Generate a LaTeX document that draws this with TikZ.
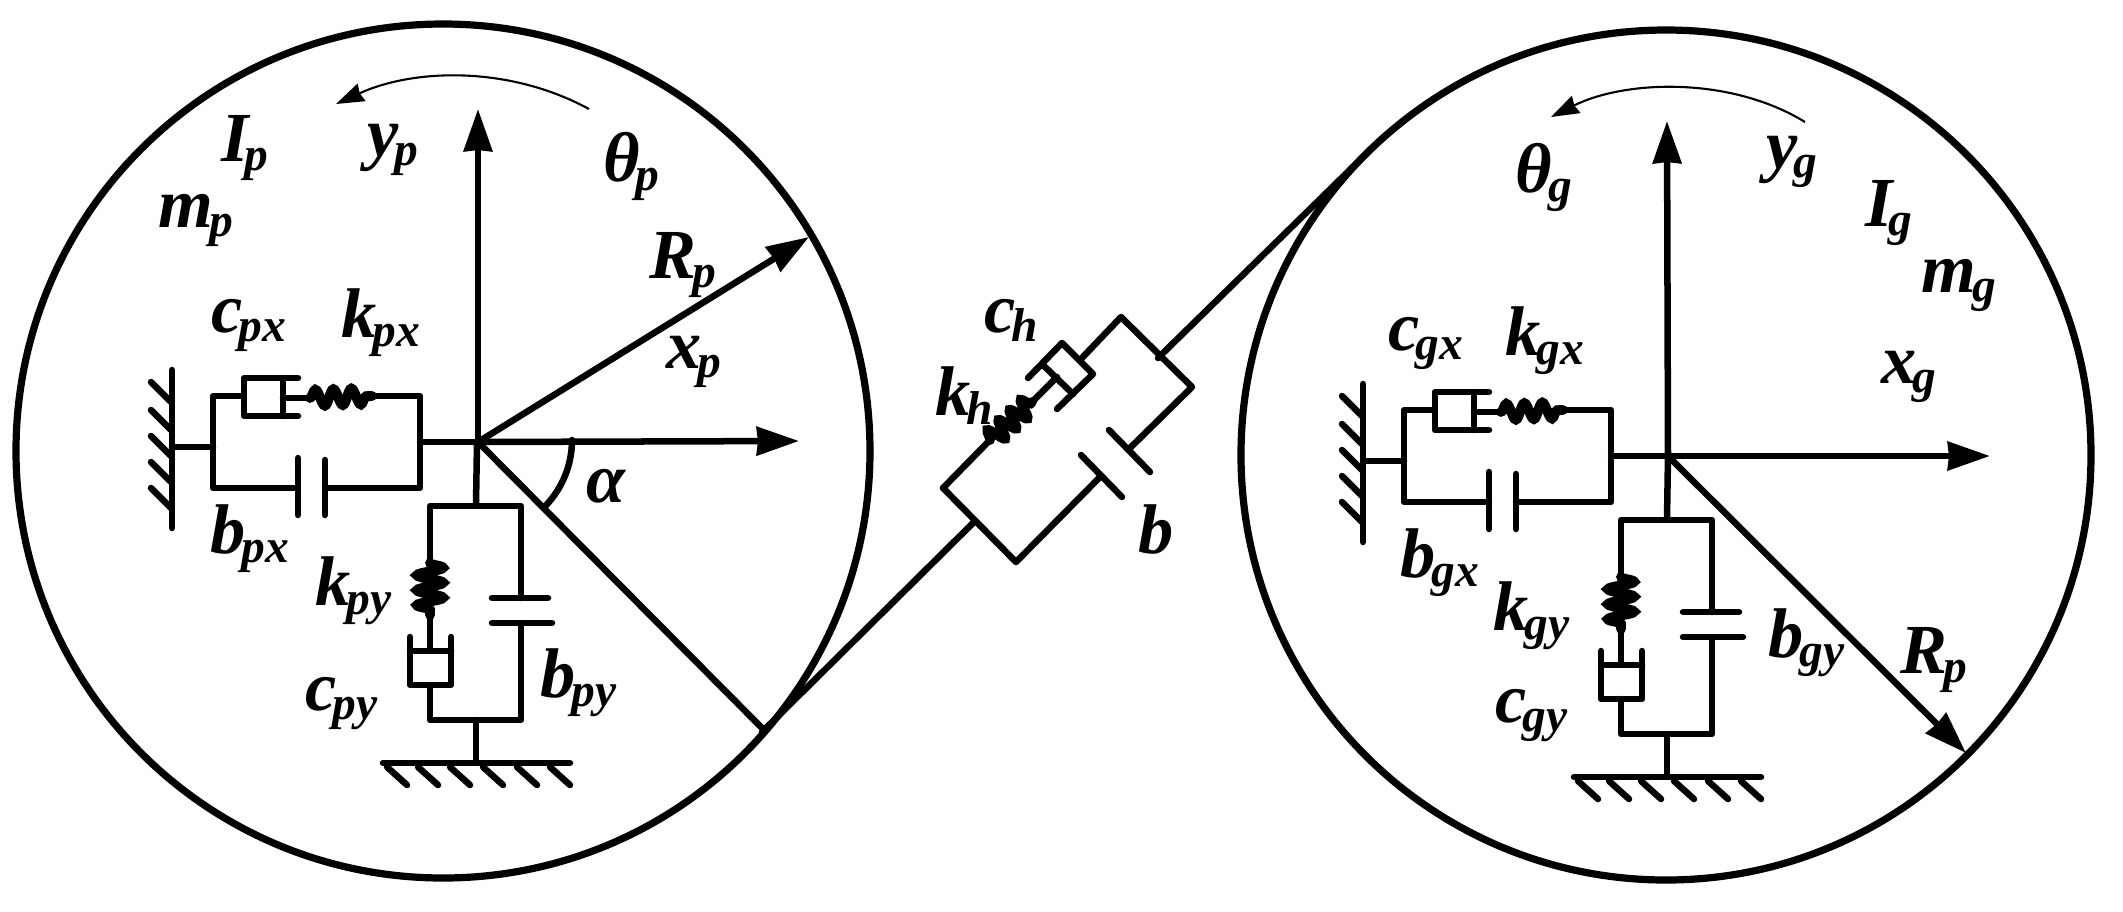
\documentclass[tikz,border=0pt]{standalone}
\usepackage{fontspec}
\setmainfont{Liberation Serif}
\usetikzlibrary{arrows.meta,decorations.pathmorphing}
\newcommand{\symb}[2]{{\fontsize{20}{20}\selectfont\bfseries\itshape #1\kern-1.2pt\raisebox{-2.8pt}{\fontsize{13.5}{13.5}\selectfont #2}}}
\tikzset{
    main/.style={line width=1.85pt,line join=round,line cap=round},
    wheel/.style={line width=2.05pt},
    axis/.style={main,-{Stealth[length=0.42cm,width=0.28cm,inset=0.01cm]}},
    turn/.style={line width=0.6pt,-{Stealth[length=0.28cm,width=0.19cm,inset=0.02cm]}},
    spring/.style 2 args={line width=2.8pt,line cap=round,decorate,decoration={snake,segment length=#1,amplitude=#2,pre length=0pt,post length=0pt}},
    label/.style={inner sep=0pt,anchor=base west},
}
\begin{document}
\begin{tikzpicture}[x=0.01cm,y=-0.01cm]
    \useasboundingbox (0,0) rectangle (2123,911);
    \coordinate (Op) at (478,442);
    \coordinate (Og) at (1668,456);
    % the two wheels
    \draw[wheel] (443,451) circle (427);
    \draw[wheel] (1666,455) circle (425);
    % axes of the pinion
    \draw[axis] (Op) -- (478,109);
    \draw[axis] (Op) -- (799,441);
    \draw[axis] (Op) -- (809,237);
    \draw[main] (Op) -- (762,728);
    \draw[main] (572,440) arc (0:44:95);
    \draw[turn] (589,109) .. controls (510,66) and (415,68) .. (336,104);
    % axes of the gear
    \draw[axis] (Og) -- (1667,121);
    \draw[axis] (Og) -- (1990,456);
    \draw[axis] (Og) -- (1966,753);
    \draw[turn] (1805,122) .. controls (1730,76) and (1625,80) .. (1551,117);
    % supports, same on both sides
    \foreach \dx/\dy in {0/0,1191/14} {
    \begin{scope}[shift={(\dx,\dy)}]
        % wall
        \draw[main] (172,370) -- (172,528);
        \foreach \y in {382,410,436,462,488}
            \draw[main] (151,\y) -- (171,\y+20);
        \draw[main] (172,447) -- (213,447);
        \draw[main] (243,396) -- (213,396) -- (213,488) -- (298,488);
        \draw[main] (298,458) -- (298,515);
        \draw[main] (325,460) -- (325,515);
        \draw[main] (325,488) -- (420,488) -- (420,396) -- (372,396);
        \draw[main] (420,442) -- (477,442);
        % damper and spring x
        \draw[main] (298,378) -- (244,378) -- (244,416) -- (298,416);
        \draw[main] (283,378) -- (283,416);
        \draw[main] (283,398) -- (310,398);
        \draw[spring={0.18cm}{0.08cm}] (310,398) -- (372,396);
        % y branch
        \draw[main] (477,442) -- (476,505);
        \draw[main] (430,563) -- (430,506) -- (521,506) -- (521,598);
        \draw[main] (492,598) -- (548,598);
        \draw[main] (492,623) -- (552,623);
        \draw[main] (521,623) -- (521,720) -- (430,720) -- (430,685);
        \draw[spring={0.15cm}{0.13cm}] (430,563) -- (430,615);
        \draw[main] (430,615) -- (430,650);
        \draw[main] (410,637) -- (410,685) -- (451,685) -- (451,637);
        \draw[main] (410,651) -- (451,651);
        % ground
        \draw[main] (476,720) -- (476,762);
        \draw[main] (383,763) -- (570,763);
        \foreach \x in {387,418,450,483,517,550}
            \draw[main] (\x,767) -- (\x+20,785);
    \end{scope}
    }
    % mesh between the wheels
    \draw[main] (762,732) -- (973,523);
    \draw[main] (1158,358) -- (1362,158);
    \draw[main] (1032,402) -- (1057,377);
    \draw[main] (943,488) -- (1016,562) -- (1100,477);
    \draw[main] (1081,455) -- (1122,497);
    \draw[main] (1109,430) -- (1150,472);
    \draw[main] (1130,448) -- (1192,387) -- (1121,317) -- (1080,360);
    \draw[main] (1028,378) -- (1062,343) -- (1093,374) -- (1057,409);
    \draw[main] (1043,365) -- (1073,394);
    \draw[main] (943,488) -- (990,440);
    \draw[spring={0.15cm}{0.09cm}] (990,440) -- (1032,402);
    % labels
    \node[label] (Ip) at (221,161) {\symb{I}{p}};
    \node[label] (mp) at (158,227) {\symb{m}{p}};
    \node[label] (yp) at (367,156) {\symb{y}{p}};
    \node[label] (thetap) at (603,181) {\symb{θ}{p}};
    \node[label] (Rp) at (649,278) {\symb{R}{p}};
    \node[label] (xp) at (666,368) {\symb{x}{p}};
    \node[label] (cpx) at (211,332) {\symb{c}{px}};
    \node[label] (kpx) at (341,337) {\symb{k}{px}};
    \node[label] (bpx) at (210,553) {\symb{b}{px}};
    \node[label] (alpha) at (586,502) {\symb{α}{}};
    \node[label] (kpy) at (315,605) {\symb{k}{py}};
    \node[label] (cpy) at (305,710) {\symb{c}{py}};
    \node[label] (bpy) at (540,697) {\symb{b}{py}};
    \node[label] (ch) at (984,332) {\symb{c}{h}};
    \node[label] (kh) at (935,415) {\symb{k}{h}};
    \node[label] (b) at (1138,553) {\symb{b}{}};
    \node[label] (thetag) at (1515,192) {\symb{θ}{g}};
    \node[label] (yg) at (1766,168) {\symb{y}{g}};
    \node[label] (Ig) at (1865,226) {\symb{I}{g}};
    \node[label] (mg) at (1921,292) {\symb{m}{g}};
    \node[label] (xg) at (1881,383) {\symb{x}{g}};
    \node[label] (cgx) at (1388,350) {\symb{c}{gx}};
    \node[label] (kgx) at (1505,355) {\symb{k}{gx}};
    \node[label] (bgx) at (1400,577) {\symb{b}{gx}};
    \node[label] (kgy) at (1493,630) {\symb{k}{gy}};
    \node[label] (cgy) at (1495,722) {\symb{c}{gy}};
    \node[label] (bgy) at (1768,657) {\symb{b}{gy}};
    \node[label] (Rg) at (1900,673) {\symb{R}{p}};
\end{tikzpicture}
\end{document}
